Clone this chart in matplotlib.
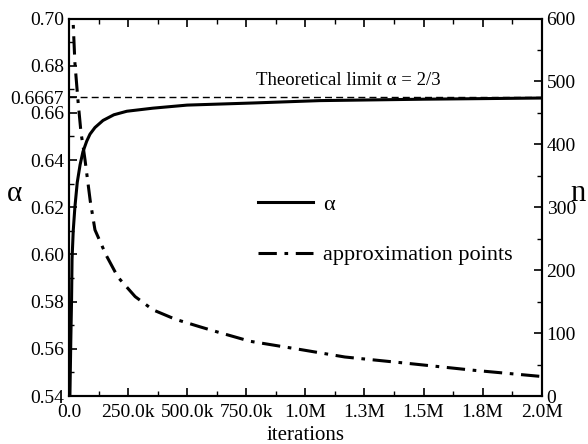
import matplotlib.pyplot as plt
from matplotlib.ticker import MultipleLocator

plt.rcParams['font.family'] = ['Liberation Serif', 'DejaVu Serif']

# alpha vs iterations
iters_alpha = [0, 4e3, 8e3, 11e3, 13e3, 18e3, 25e3, 35e3, 47e3, 59e3, 75e3, 89e3,
               110e3, 144e3, 190e3, 245e3, 355e3, 500e3, 780e3, 1.06e6, 1.5e6, 2.0e6]
alpha = [0.52, 0.540, 0.565, 0.581, 0.598, 0.610, 0.620, 0.6305, 0.638, 0.6435, 0.648, 0.651,
         0.6538, 0.6568, 0.6592, 0.6607, 0.662, 0.6633, 0.6642, 0.6652, 0.6658, 0.6663]

# number of approximation points vs iterations
iters_n = [12e3, 17e3, 25e3, 38e3, 51e3, 59e3, 68e3, 90e3, 110e3, 157e3, 207e3, 280e3,
           355e3, 450e3, 554e3, 626e3, 766e3, 977e3, 1.167e6, 1.43e6, 1.709e6, 2.0e6]
n_points = [680, 600, 530, 470, 418, 399, 375, 310, 264, 224, 189, 158,
            137, 122, 110, 102, 87, 74, 62, 52, 41, 31]

alpha_limit = 2 / 3
xticks = [0, 250e3, 500e3, 750e3, 1.0e6, 1.25e6, 1.5e6, 1.75e6, 2.0e6]
xtick_labels = ['0.0', '250.0k', '500.0k', '750.0k', '1.0M', '1.3M', '1.5M', '1.8M', '2.0M']
alpha_ticks = [0.54, 0.56, 0.58, 0.60, 0.62, 0.64, 0.66, 0.6667, 0.68, 0.70]
alpha_tick_labels = ['0.54', '0.56', '0.58', '0.60', '0.62', '0.64', '0.66', '0.6667', '0.68', '0.70']

fig = plt.figure(figsize=(5.88, 4.44), dpi=100)
ax = fig.add_axes([0.1173, 0.1081, 0.8040, 0.8502])
ax2 = ax.twinx()

l1, = ax.plot(iters_alpha, alpha, color='black', lw=2.2)
ax.axhline(alpha_limit, color='black', lw=1, linestyle=(0, (5, 3)))
l2, = ax2.plot(iters_n, n_points, color='black', lw=2.2,
               linestyle=(0, (6, 2.5, 1.2, 2.5)))

ax.set_xlim(0, 2.0e6)
ax.set_ylim(0.54, 0.70)
ax2.set_ylim(0, 600)

ax.set_xticks(xticks)
ax.set_xticklabels(xtick_labels)
ax.xaxis.set_minor_locator(MultipleLocator(125e3))
ax.set_yticks(alpha_ticks)
ax.set_yticklabels(alpha_tick_labels)
ax.yaxis.set_minor_locator(MultipleLocator(0.01))
ax2.yaxis.set_major_locator(MultipleLocator(100))
ax2.yaxis.set_minor_locator(MultipleLocator(50))

ax.tick_params(axis='both', which='both', direction='in', labelsize=14, top=True, right=False)
ax.tick_params(axis='x', which='major', pad=6)
ax.tick_params(which='major', length=6, width=1.2)
ax.tick_params(which='minor', length=3.5, width=1.0)
ax2.tick_params(axis='y', which='both', direction='in', labelsize=14)
ax2.tick_params(which='major', length=6, width=1.2)
ax2.tick_params(which='minor', length=3.5, width=1.0)
for a in (ax, ax2):
    for s in a.spines.values():
        s.set_linewidth(1.5)

ax.set_xlabel('iterations', fontsize=15, labelpad=3)
ax.set_ylabel('α', fontsize=21, rotation=0)
ax.yaxis.set_label_coords(-0.116, 0.50)
ax2.set_ylabel('n', fontsize=22, rotation=0)
ax2.yaxis.set_label_coords(1.077, 0.575)

ax.text(0.59, 0.837, 'Theoretical limit α = 2/3', transform=ax.transAxes,
        fontsize=13.5, ha='center', va='center')

ax.legend([l1, l2], ['α', 'approximation points'], loc='center left',
          bbox_to_anchor=(0.358, 0.44), frameon=False, fontsize=16,
          handlelength=2.45, handletextpad=0.45, labelspacing=1.35)

fig.savefig('out.png', dpi=100)
